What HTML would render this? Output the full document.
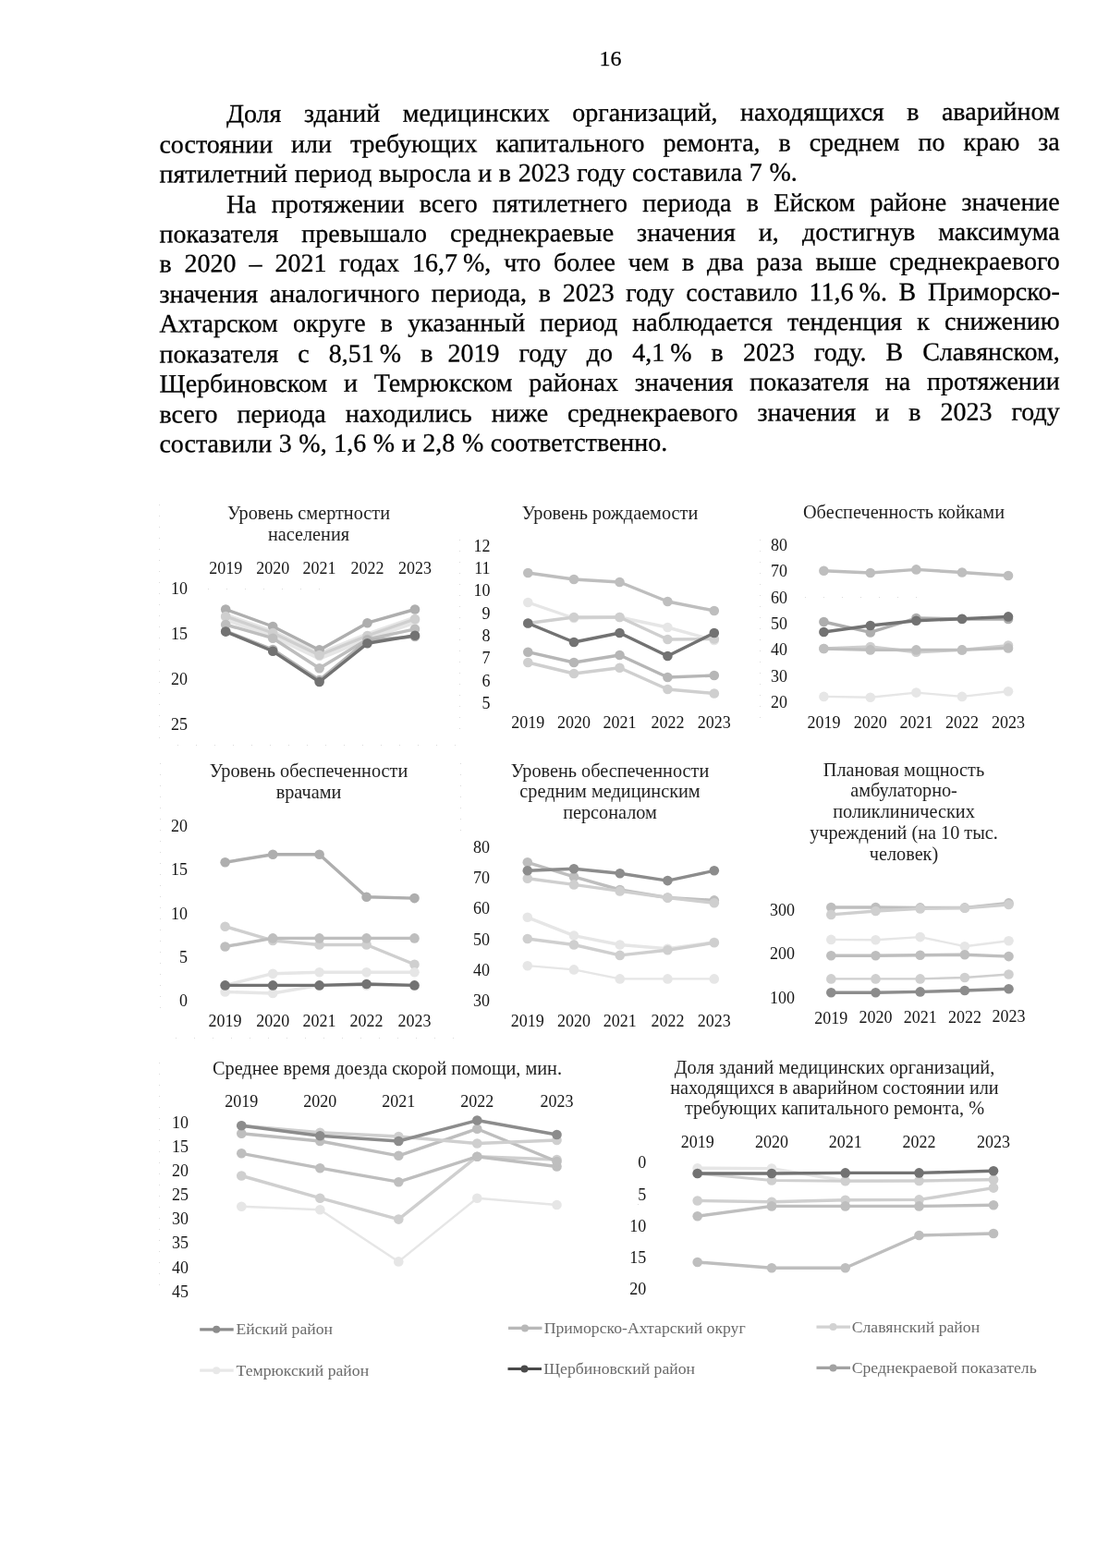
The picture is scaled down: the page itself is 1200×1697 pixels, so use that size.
<!DOCTYPE html>
<html lang="ru"><head><meta charset="utf-8"><title>16</title>
<style>
html,body{margin:0;padding:0;background:#fff;}
body{width:1200px;height:1697px;position:relative;overflow:hidden;font-family:"Liberation Serif","DejaVu Serif",serif;color:#000;}
.ln{position:absolute;white-space:nowrap;font-size:28px;line-height:32px;height:32px;color:#000;-webkit-text-stroke:0.3px #000;}
.tx{position:absolute;left:0;top:0;width:1200px;height:520px;transform:skewY(-0.17deg);transform-origin:660px 310px;}
.j{text-align:justify;text-align-last:justify;}
.l{text-align:left;word-spacing:0.6px;}
.nb{display:inline-block;text-align:left;text-align-last:auto;white-space:pre;}
.pg{position:absolute;-webkit-text-stroke:0.25px #000;font-size:24px;line-height:28px;left:630px;width:61px;text-align:center;top:49px;}
svg{position:absolute;left:0;top:0;}
svg text{font-family:"Liberation Serif","DejaVu Serif",serif;}
.t{font-size:20.25px;fill:#222;text-anchor:middle;}
.x{font-size:18px;fill:#151515;text-anchor:middle;}
.y{font-size:18px;fill:#151515;text-anchor:end;}
.lg{font-size:17.7px;fill:#6a6a6a;}
</style></head><body>
<div class="pg">16</div>
<div class="tx">
<div class="ln j" style="left:244.9px;top:106.1px;width:901.9px">Доля зданий медицинских организаций, находящихся в аварийном</div>
<div class="ln j" style="left:172.4px;top:138.6px;width:974.4px">состоянии или требующих капитального ремонта, в среднем по краю за</div>
<div class="ln l" style="left:172.4px;top:171.1px;width:974.4px">пятилетний период выросла и в 2023 году составила 7 %.</div>
<div class="ln j" style="left:244.9px;top:203.5px;width:901.9px">На протяжении всего пятилетнего периода в Ейском районе значение</div>
<div class="ln j" style="left:172.4px;top:236.0px;width:974.4px">показателя превышало среднекраевые значения и, достигнув максимума</div>
<div class="ln j" style="left:172.4px;top:268.4px;width:974.4px">в 2020 – 2021 годах <span class="nb" style="word-spacing:-1px">16,7 %,</span> что более чем в два раза выше среднекраевого</div>
<div class="ln j" style="left:172.4px;top:300.9px;width:974.4px">значения аналогичного периода, в 2023 году составило <span class="nb" style="word-spacing:-1px">11,6 %.</span> В Приморско-</div>
<div class="ln j" style="left:172.4px;top:333.4px;width:974.4px">Ахтарском округе в указанный период наблюдается тенденция к снижению</div>
<div class="ln j" style="left:172.4px;top:365.8px;width:974.4px">показателя с <span class="nb" style="word-spacing:-1px">8,51 %</span> <span class="nb" style="word-spacing:9px">в 2019</span> году до <span class="nb" style="word-spacing:-1px">4,1 %</span> в 2023 году. В Славянском,</div>
<div class="ln j" style="left:172.4px;top:398.3px;width:974.4px">Щербиновском и Темрюкском районах значения показателя на протяжении</div>
<div class="ln j" style="left:172.4px;top:430.8px;width:974.4px">всего периода находились ниже среднекраевого значения и в 2023 году</div>
<div class="ln l" style="left:172.4px;top:463.2px;width:974.4px">составили 3 %, 1,6 % и 2,8 % соответственно.</div>
</div>
<svg width="1200" height="1697" viewBox="0 0 1200 1697">
<g stroke="#9a9a9a" stroke-width="1" stroke-dasharray="1 11" fill="none" opacity="0.35"><path d="M172.5 546V800M172.5 1150V1400M497.5 584V796M822.5 584V786M498.5 826V900M173.5 826V1100"/><path d="M192 806.5H500M225 637.5H360M871 646.5H1007M690 1303.5H700M190 1123.5H500" stroke-dasharray="1 19"/></g>
<text class="t" x="334.0" y="562.0">Уровень смертности</text><text class="t" x="334.0" y="584.7">населения</text>
<text class="x" x="244.2" y="621.2">2019</text><text class="x" x="295.2" y="621.2">2020</text><text class="x" x="345.6" y="621.2">2021</text><text class="x" x="397.5" y="621.2">2022</text><text class="x" x="449.0" y="621.2">2023</text>
<text class="y" x="203.0" y="643.0">10</text><text class="y" x="203.0" y="692.0">15</text><text class="y" x="203.0" y="741.0">20</text><text class="y" x="203.0" y="789.5">25</text>
<g stroke="#e6e6e6" fill="#e6e6e6"><polyline points="244.2,668.0 295.2,686.0 345.6,710.0 397.5,689.0 449.0,671.0" fill="none" stroke-width="9" stroke-linejoin="round" stroke-linecap="round"/><circle cx="244.2" cy="668.0" r="5.3" stroke="none"/><circle cx="295.2" cy="686.0" r="5.3" stroke="none"/><circle cx="345.6" cy="710.0" r="5.3" stroke="none"/><circle cx="397.5" cy="689.0" r="5.3" stroke="none"/><circle cx="449.0" cy="671.0" r="5.3" stroke="none"/></g>
<g stroke="#aeaeae" fill="#aeaeae"><polyline points="244.2,659.5 295.2,678.0 345.6,703.4 397.5,674.2 449.0,659.5" fill="none" stroke-width="3.4" stroke-linejoin="round" stroke-linecap="round"/><circle cx="244.2" cy="659.5" r="5.3" stroke="none"/><circle cx="295.2" cy="678.0" r="5.3" stroke="none"/><circle cx="345.6" cy="703.4" r="5.3" stroke="none"/><circle cx="397.5" cy="674.2" r="5.3" stroke="none"/><circle cx="449.0" cy="659.5" r="5.3" stroke="none"/></g>
<g stroke="#cfcfcf" fill="#cfcfcf"><polyline points="244.2,667.0 295.2,685.0 345.6,709.0 397.5,688.0 449.0,670.0" fill="none" stroke-width="3.4" stroke-linejoin="round" stroke-linecap="round"/><circle cx="244.2" cy="667.0" r="5.3" stroke="none"/><circle cx="295.2" cy="685.0" r="5.3" stroke="none"/><circle cx="345.6" cy="709.0" r="5.3" stroke="none"/><circle cx="397.5" cy="688.0" r="5.3" stroke="none"/><circle cx="449.0" cy="670.0" r="5.3" stroke="none"/></g>
<g stroke="#bebebe" fill="#bebebe"><polyline points="244.2,676.0 295.2,690.7 345.6,723.3 397.5,692.0 449.0,680.8" fill="none" stroke-width="3.4" stroke-linejoin="round" stroke-linecap="round"/><circle cx="244.2" cy="676.0" r="5.3" stroke="none"/><circle cx="295.2" cy="690.7" r="5.3" stroke="none"/><circle cx="345.6" cy="723.3" r="5.3" stroke="none"/><circle cx="397.5" cy="692.0" r="5.3" stroke="none"/><circle cx="449.0" cy="680.8" r="5.3" stroke="none"/></g>
<g stroke="#b6b6b6" fill="#b6b6b6"><polyline points="244.2,683.0 295.2,703.0 345.6,736.0 397.5,693.0 449.0,689.0" fill="none" stroke-width="3.4" stroke-linejoin="round" stroke-linecap="round"/><circle cx="244.2" cy="683.0" r="5.3" stroke="none"/><circle cx="295.2" cy="703.0" r="5.3" stroke="none"/><circle cx="345.6" cy="736.0" r="5.3" stroke="none"/><circle cx="397.5" cy="693.0" r="5.3" stroke="none"/><circle cx="449.0" cy="689.0" r="5.3" stroke="none"/></g>
<g stroke="#727272" fill="#727272"><polyline points="244.2,683.6 295.2,704.8 345.6,738.0 397.5,696.3 449.0,687.8" fill="none" stroke-width="3.4" stroke-linejoin="round" stroke-linecap="round"/><circle cx="244.2" cy="683.6" r="5.3" stroke="none"/><circle cx="295.2" cy="704.8" r="5.3" stroke="none"/><circle cx="345.6" cy="738.0" r="5.3" stroke="none"/><circle cx="397.5" cy="696.3" r="5.3" stroke="none"/><circle cx="449.0" cy="687.8" r="5.3" stroke="none"/></g>
<text class="t" x="660.0" y="561.5">Уровень рождаемости</text>
<text class="x" x="571.3" y="788.0">2019</text><text class="x" x="621.0" y="788.0">2020</text><text class="x" x="670.5" y="788.0">2021</text><text class="x" x="722.4" y="788.0">2022</text><text class="x" x="772.8" y="788.0">2023</text>
<text class="y" x="530.5" y="596.8">12</text><text class="y" x="530.5" y="621.1">11</text><text class="y" x="530.5" y="645.4">10</text><text class="y" x="530.5" y="669.7">9</text><text class="y" x="530.5" y="694.0">8</text><text class="y" x="530.5" y="718.3">7</text><text class="y" x="530.5" y="742.6">6</text><text class="y" x="530.5" y="766.9">5</text>
<g stroke="#bebebe" fill="#bebebe"><polyline points="571.3,620.0 621.0,627.0 670.5,630.0 722.4,651.0 772.8,661.0" fill="none" stroke-width="3.4" stroke-linejoin="round" stroke-linecap="round"/><circle cx="571.3" cy="620.0" r="5.3" stroke="none"/><circle cx="621.0" cy="627.0" r="5.3" stroke="none"/><circle cx="670.5" cy="630.0" r="5.3" stroke="none"/><circle cx="722.4" cy="651.0" r="5.3" stroke="none"/><circle cx="772.8" cy="661.0" r="5.3" stroke="none"/></g>
<g stroke="#e6e6e6" fill="#e6e6e6"><polyline points="571.3,652.0 621.0,669.0 670.5,668.0 722.4,679.0 772.8,693.0" fill="none" stroke-width="3.4" stroke-linejoin="round" stroke-linecap="round"/><circle cx="571.3" cy="652.0" r="5.3" stroke="none"/><circle cx="621.0" cy="669.0" r="5.3" stroke="none"/><circle cx="670.5" cy="668.0" r="5.3" stroke="none"/><circle cx="722.4" cy="679.0" r="5.3" stroke="none"/><circle cx="772.8" cy="693.0" r="5.3" stroke="none"/></g>
<g stroke="#cfcfcf" fill="#cfcfcf"><polyline points="571.3,674.5 621.0,668.0 670.5,668.0 722.4,692.0 772.8,691.5" fill="none" stroke-width="3.4" stroke-linejoin="round" stroke-linecap="round"/><circle cx="571.3" cy="674.5" r="5.3" stroke="none"/><circle cx="621.0" cy="668.0" r="5.3" stroke="none"/><circle cx="670.5" cy="668.0" r="5.3" stroke="none"/><circle cx="722.4" cy="692.0" r="5.3" stroke="none"/><circle cx="772.8" cy="691.5" r="5.3" stroke="none"/></g>
<g stroke="#b6b6b6" fill="#b6b6b6"><polyline points="571.3,705.7 621.0,717.0 670.5,709.0 722.4,733.0 772.8,731.0" fill="none" stroke-width="3.4" stroke-linejoin="round" stroke-linecap="round"/><circle cx="571.3" cy="705.7" r="5.3" stroke="none"/><circle cx="621.0" cy="717.0" r="5.3" stroke="none"/><circle cx="670.5" cy="709.0" r="5.3" stroke="none"/><circle cx="722.4" cy="733.0" r="5.3" stroke="none"/><circle cx="772.8" cy="731.0" r="5.3" stroke="none"/></g>
<g stroke="#cfcfcf" fill="#cfcfcf"><polyline points="571.3,717.0 621.0,729.0 670.5,722.7 722.4,746.0 772.8,750.5" fill="none" stroke-width="3.4" stroke-linejoin="round" stroke-linecap="round"/><circle cx="571.3" cy="717.0" r="5.3" stroke="none"/><circle cx="621.0" cy="729.0" r="5.3" stroke="none"/><circle cx="670.5" cy="722.7" r="5.3" stroke="none"/><circle cx="722.4" cy="746.0" r="5.3" stroke="none"/><circle cx="772.8" cy="750.5" r="5.3" stroke="none"/></g>
<g stroke="#727272" fill="#727272"><polyline points="571.3,674.5 621.0,695.0 670.5,685.0 722.4,710.0 772.8,685.0" fill="none" stroke-width="3.4" stroke-linejoin="round" stroke-linecap="round"/><circle cx="571.3" cy="674.5" r="5.3" stroke="none"/><circle cx="621.0" cy="695.0" r="5.3" stroke="none"/><circle cx="670.5" cy="685.0" r="5.3" stroke="none"/><circle cx="722.4" cy="710.0" r="5.3" stroke="none"/><circle cx="772.8" cy="685.0" r="5.3" stroke="none"/></g>
<text class="t" x="978.0" y="561.0">Обеспеченность койками</text>
<text class="x" x="891.4" y="788.0">2019</text><text class="x" x="941.8" y="788.0">2020</text><text class="x" x="991.4" y="788.0">2021</text><text class="x" x="1041.0" y="788.0">2022</text><text class="x" x="1091.0" y="788.0">2023</text>
<text class="y" x="852.0" y="595.8">80</text><text class="y" x="852.0" y="624.1">70</text><text class="y" x="852.0" y="652.5">60</text><text class="y" x="852.0" y="680.8">50</text><text class="y" x="852.0" y="709.2">40</text><text class="y" x="852.0" y="737.5">30</text><text class="y" x="852.0" y="765.9">20</text>
<g stroke="#bebebe" fill="#bebebe"><polyline points="891.4,617.8 941.8,620.0 991.4,616.4 1041.0,619.5 1091.0,623.0" fill="none" stroke-width="3.4" stroke-linejoin="round" stroke-linecap="round"/><circle cx="891.4" cy="617.8" r="5.3" stroke="none"/><circle cx="941.8" cy="620.0" r="5.3" stroke="none"/><circle cx="991.4" cy="616.4" r="5.3" stroke="none"/><circle cx="1041.0" cy="619.5" r="5.3" stroke="none"/><circle cx="1091.0" cy="623.0" r="5.3" stroke="none"/></g>
<g stroke="#cfcfcf" fill="#cfcfcf"><polyline points="891.4,702.0 941.8,700.0 991.4,705.7 1041.0,703.4 1091.0,698.6" fill="none" stroke-width="3.4" stroke-linejoin="round" stroke-linecap="round"/><circle cx="891.4" cy="702.0" r="5.3" stroke="none"/><circle cx="941.8" cy="700.0" r="5.3" stroke="none"/><circle cx="991.4" cy="705.7" r="5.3" stroke="none"/><circle cx="1041.0" cy="703.4" r="5.3" stroke="none"/><circle cx="1091.0" cy="698.6" r="5.3" stroke="none"/></g>
<g stroke="#bebebe" fill="#bebebe"><polyline points="891.4,702.0 941.8,703.4 991.4,703.4 1041.0,703.4 1091.0,701.4" fill="none" stroke-width="3.4" stroke-linejoin="round" stroke-linecap="round"/><circle cx="891.4" cy="702.0" r="5.3" stroke="none"/><circle cx="941.8" cy="703.4" r="5.3" stroke="none"/><circle cx="991.4" cy="703.4" r="5.3" stroke="none"/><circle cx="1041.0" cy="703.4" r="5.3" stroke="none"/><circle cx="1091.0" cy="701.4" r="5.3" stroke="none"/></g>
<g stroke="#e6e6e6" fill="#e6e6e6"><polyline points="891.4,753.9 941.8,754.7 991.4,749.6 1041.0,753.9 1091.0,748.2" fill="none" stroke-width="2.4" stroke-linejoin="round" stroke-linecap="round"/><circle cx="891.4" cy="753.9" r="5.3" stroke="none"/><circle cx="941.8" cy="754.7" r="5.3" stroke="none"/><circle cx="991.4" cy="749.6" r="5.3" stroke="none"/><circle cx="1041.0" cy="753.9" r="5.3" stroke="none"/><circle cx="1091.0" cy="748.2" r="5.3" stroke="none"/></g>
<g stroke="#aeaeae" fill="#aeaeae"><polyline points="891.4,673.0 941.8,684.4 991.4,669.0 1041.0,670.0 1091.0,670.0" fill="none" stroke-width="3.4" stroke-linejoin="round" stroke-linecap="round"/><circle cx="891.4" cy="673.0" r="5.3" stroke="none"/><circle cx="941.8" cy="684.4" r="5.3" stroke="none"/><circle cx="991.4" cy="669.0" r="5.3" stroke="none"/><circle cx="1041.0" cy="670.0" r="5.3" stroke="none"/><circle cx="1091.0" cy="670.0" r="5.3" stroke="none"/></g>
<g stroke="#727272" fill="#727272"><polyline points="891.4,684.0 941.8,677.0 991.4,671.7 1041.0,669.7 1091.0,667.4" fill="none" stroke-width="3.4" stroke-linejoin="round" stroke-linecap="round"/><circle cx="891.4" cy="684.0" r="5.3" stroke="none"/><circle cx="941.8" cy="677.0" r="5.3" stroke="none"/><circle cx="991.4" cy="671.7" r="5.3" stroke="none"/><circle cx="1041.0" cy="669.7" r="5.3" stroke="none"/><circle cx="1091.0" cy="667.4" r="5.3" stroke="none"/></g>
<text class="t" x="334.0" y="841.0">Уровень обеспеченности</text><text class="t" x="334.0" y="863.7">врачами</text>
<text class="x" x="243.6" y="1111.0">2019</text><text class="x" x="295.2" y="1111.0">2020</text><text class="x" x="345.6" y="1111.0">2021</text><text class="x" x="396.6" y="1111.0">2022</text><text class="x" x="448.5" y="1111.0">2023</text>
<text class="y" x="203.0" y="900.1">20</text><text class="y" x="203.0" y="947.4">15</text><text class="y" x="203.0" y="994.7">10</text><text class="y" x="203.0" y="1042.0">5</text><text class="y" x="203.0" y="1089.3">0</text>
<g stroke="#aeaeae" fill="#aeaeae"><polyline points="243.6,933.3 295.2,924.8 345.6,924.8 396.6,970.7 448.5,972.1" fill="none" stroke-width="3.4" stroke-linejoin="round" stroke-linecap="round"/><circle cx="243.6" cy="933.3" r="5.3" stroke="none"/><circle cx="295.2" cy="924.8" r="5.3" stroke="none"/><circle cx="345.6" cy="924.8" r="5.3" stroke="none"/><circle cx="396.6" cy="970.7" r="5.3" stroke="none"/><circle cx="448.5" cy="972.1" r="5.3" stroke="none"/></g>
<g stroke="#cfcfcf" fill="#cfcfcf"><polyline points="243.6,1002.7 295.2,1018.0 345.6,1022.5 396.6,1022.5 448.5,1043.8" fill="none" stroke-width="3.4" stroke-linejoin="round" stroke-linecap="round"/><circle cx="243.6" cy="1002.7" r="5.3" stroke="none"/><circle cx="295.2" cy="1018.0" r="5.3" stroke="none"/><circle cx="345.6" cy="1022.5" r="5.3" stroke="none"/><circle cx="396.6" cy="1022.5" r="5.3" stroke="none"/><circle cx="448.5" cy="1043.8" r="5.3" stroke="none"/></g>
<g stroke="#bebebe" fill="#bebebe"><polyline points="243.6,1024.5 295.2,1015.4 345.6,1015.4 396.6,1015.4 448.5,1015.4" fill="none" stroke-width="3.4" stroke-linejoin="round" stroke-linecap="round"/><circle cx="243.6" cy="1024.5" r="5.3" stroke="none"/><circle cx="295.2" cy="1015.4" r="5.3" stroke="none"/><circle cx="345.6" cy="1015.4" r="5.3" stroke="none"/><circle cx="396.6" cy="1015.4" r="5.3" stroke="none"/><circle cx="448.5" cy="1015.4" r="5.3" stroke="none"/></g>
<g stroke="#e6e6e6" fill="#e6e6e6"><polyline points="243.6,1066.4 295.2,1053.7 345.6,1052.3 396.6,1052.3 448.5,1052.3" fill="none" stroke-width="3.4" stroke-linejoin="round" stroke-linecap="round"/><circle cx="243.6" cy="1066.4" r="5.3" stroke="none"/><circle cx="295.2" cy="1053.7" r="5.3" stroke="none"/><circle cx="345.6" cy="1052.3" r="5.3" stroke="none"/><circle cx="396.6" cy="1052.3" r="5.3" stroke="none"/><circle cx="448.5" cy="1052.3" r="5.3" stroke="none"/></g>
<g stroke="#e6e6e6" fill="#e6e6e6"><polyline points="243.6,1073.5 295.2,1075.0 345.6,1066.4 396.6,1066.4 448.5,1066.4" fill="none" stroke-width="3.4" stroke-linejoin="round" stroke-linecap="round"/><circle cx="243.6" cy="1073.5" r="5.3" stroke="none"/><circle cx="295.2" cy="1075.0" r="5.3" stroke="none"/><circle cx="345.6" cy="1066.4" r="5.3" stroke="none"/><circle cx="396.6" cy="1066.4" r="5.3" stroke="none"/><circle cx="448.5" cy="1066.4" r="5.3" stroke="none"/></g>
<g stroke="#727272" fill="#727272"><polyline points="243.6,1066.4 295.2,1066.4 345.6,1066.4 396.6,1065.0 448.5,1066.4" fill="none" stroke-width="3.4" stroke-linejoin="round" stroke-linecap="round"/><circle cx="243.6" cy="1066.4" r="5.3" stroke="none"/><circle cx="295.2" cy="1066.4" r="5.3" stroke="none"/><circle cx="345.6" cy="1066.4" r="5.3" stroke="none"/><circle cx="396.6" cy="1065.0" r="5.3" stroke="none"/><circle cx="448.5" cy="1066.4" r="5.3" stroke="none"/></g>
<text class="t" x="660.0" y="840.5">Уровень обеспеченности</text><text class="t" x="660.0" y="863.2">средним медицинским</text><text class="t" x="660.0" y="885.9">персоналом</text>
<text class="x" x="570.8" y="1111.0">2019</text><text class="x" x="621.0" y="1111.0">2020</text><text class="x" x="670.8" y="1111.0">2021</text><text class="x" x="722.4" y="1111.0">2022</text><text class="x" x="772.8" y="1111.0">2023</text>
<text class="y" x="530.0" y="922.6">80</text><text class="y" x="530.0" y="955.9">70</text><text class="y" x="530.0" y="989.2">60</text><text class="y" x="530.0" y="1022.5">50</text><text class="y" x="530.0" y="1055.8">40</text><text class="y" x="530.0" y="1089.1">30</text>
<g stroke="#bebebe" fill="#bebebe"><polyline points="570.8,933.3 621.0,948.9 670.8,963.0 722.4,971.5 772.8,974.4" fill="none" stroke-width="3.4" stroke-linejoin="round" stroke-linecap="round"/><circle cx="570.8" cy="933.3" r="5.3" stroke="none"/><circle cx="621.0" cy="948.9" r="5.3" stroke="none"/><circle cx="670.8" cy="963.0" r="5.3" stroke="none"/><circle cx="722.4" cy="971.5" r="5.3" stroke="none"/><circle cx="772.8" cy="974.4" r="5.3" stroke="none"/></g>
<g stroke="#cfcfcf" fill="#cfcfcf"><polyline points="570.8,950.8 621.0,957.4 670.8,964.4 722.4,971.5 772.8,977.2" fill="none" stroke-width="3.4" stroke-linejoin="round" stroke-linecap="round"/><circle cx="570.8" cy="950.8" r="5.3" stroke="none"/><circle cx="621.0" cy="957.4" r="5.3" stroke="none"/><circle cx="670.8" cy="964.4" r="5.3" stroke="none"/><circle cx="722.4" cy="971.5" r="5.3" stroke="none"/><circle cx="772.8" cy="977.2" r="5.3" stroke="none"/></g>
<g stroke="#e6e6e6" fill="#e6e6e6"><polyline points="570.8,992.8 621.0,1012.6 670.8,1022.5 722.4,1026.8 772.8,1019.7" fill="none" stroke-width="3.4" stroke-linejoin="round" stroke-linecap="round"/><circle cx="570.8" cy="992.8" r="5.3" stroke="none"/><circle cx="621.0" cy="1012.6" r="5.3" stroke="none"/><circle cx="670.8" cy="1022.5" r="5.3" stroke="none"/><circle cx="722.4" cy="1026.8" r="5.3" stroke="none"/><circle cx="772.8" cy="1019.7" r="5.3" stroke="none"/></g>
<g stroke="#cfcfcf" fill="#cfcfcf"><polyline points="570.8,1016.0 621.0,1022.5 670.8,1033.9 722.4,1028.2 772.8,1020.3" fill="none" stroke-width="3.4" stroke-linejoin="round" stroke-linecap="round"/><circle cx="570.8" cy="1016.0" r="5.3" stroke="none"/><circle cx="621.0" cy="1022.5" r="5.3" stroke="none"/><circle cx="670.8" cy="1033.9" r="5.3" stroke="none"/><circle cx="722.4" cy="1028.2" r="5.3" stroke="none"/><circle cx="772.8" cy="1020.3" r="5.3" stroke="none"/></g>
<g stroke="#e6e6e6" fill="#e6e6e6"><polyline points="570.8,1045.2 621.0,1049.4 670.8,1059.4 722.4,1059.4 772.8,1059.4" fill="none" stroke-width="2.2" stroke-linejoin="round" stroke-linecap="round"/><circle cx="570.8" cy="1045.2" r="5.3" stroke="none"/><circle cx="621.0" cy="1049.4" r="5.3" stroke="none"/><circle cx="670.8" cy="1059.4" r="5.3" stroke="none"/><circle cx="722.4" cy="1059.4" r="5.3" stroke="none"/><circle cx="772.8" cy="1059.4" r="5.3" stroke="none"/></g>
<g stroke="#8c8c8c" fill="#8c8c8c"><polyline points="570.8,942.3 621.0,940.3 670.8,945.2 722.4,953.1 772.8,942.3" fill="none" stroke-width="3.4" stroke-linejoin="round" stroke-linecap="round"/><circle cx="570.8" cy="942.3" r="5.3" stroke="none"/><circle cx="621.0" cy="940.3" r="5.3" stroke="none"/><circle cx="670.8" cy="945.2" r="5.3" stroke="none"/><circle cx="722.4" cy="953.1" r="5.3" stroke="none"/><circle cx="772.8" cy="942.3" r="5.3" stroke="none"/></g>
<text class="t" x="978.0" y="839.5">Плановая мощность</text><text class="t" x="978.0" y="862.4">амбулаторно-</text><text class="t" x="978.0" y="885.3">поликлинических</text><text class="t" x="978.0" y="908.2">учреждений (на 10 тыс.</text><text class="t" x="978.0" y="931.1">человек)</text>
<text class="x" x="899.3" y="1107.6">2019</text><text class="x" x="947.5" y="1107.4">2020</text><text class="x" x="995.7" y="1107.0">2021</text><text class="x" x="1043.9" y="1106.6">2022</text><text class="x" x="1091.5" y="1106.2">2023</text>
<text class="y" x="860.0" y="990.6">300</text><text class="y" x="860.0" y="1038.4">200</text><text class="y" x="860.0" y="1086.2">100</text>
<g stroke="#bebebe" fill="#bebebe"><polyline points="899.3,982.0 947.5,982.0 995.7,982.4 1043.9,982.4 1091.5,977.4" fill="none" stroke-width="3.4" stroke-linejoin="round" stroke-linecap="round"/><circle cx="899.3" cy="982.0" r="5.3" stroke="none"/><circle cx="947.5" cy="982.0" r="5.3" stroke="none"/><circle cx="995.7" cy="982.4" r="5.3" stroke="none"/><circle cx="1043.9" cy="982.4" r="5.3" stroke="none"/><circle cx="1091.5" cy="977.4" r="5.3" stroke="none"/></g>
<g stroke="#cfcfcf" fill="#cfcfcf"><polyline points="899.3,989.9 947.5,986.0 995.7,983.4 1043.9,982.8 1091.5,979.0" fill="none" stroke-width="3.4" stroke-linejoin="round" stroke-linecap="round"/><circle cx="899.3" cy="989.9" r="5.3" stroke="none"/><circle cx="947.5" cy="986.0" r="5.3" stroke="none"/><circle cx="995.7" cy="983.4" r="5.3" stroke="none"/><circle cx="1043.9" cy="982.8" r="5.3" stroke="none"/><circle cx="1091.5" cy="979.0" r="5.3" stroke="none"/></g>
<g stroke="#e6e6e6" fill="#e6e6e6"><polyline points="899.3,1016.9 947.5,1017.2 995.7,1014.1 1043.9,1024.2 1091.5,1018.3" fill="none" stroke-width="2.4" stroke-linejoin="round" stroke-linecap="round"/><circle cx="899.3" cy="1016.9" r="5.3" stroke="none"/><circle cx="947.5" cy="1017.2" r="5.3" stroke="none"/><circle cx="995.7" cy="1014.1" r="5.3" stroke="none"/><circle cx="1043.9" cy="1024.2" r="5.3" stroke="none"/><circle cx="1091.5" cy="1018.3" r="5.3" stroke="none"/></g>
<g stroke="#bebebe" fill="#bebebe"><polyline points="899.3,1034.2 947.5,1034.2 995.7,1033.7 1043.9,1033.3 1091.5,1035.1" fill="none" stroke-width="3.4" stroke-linejoin="round" stroke-linecap="round"/><circle cx="899.3" cy="1034.2" r="5.3" stroke="none"/><circle cx="947.5" cy="1034.2" r="5.3" stroke="none"/><circle cx="995.7" cy="1033.7" r="5.3" stroke="none"/><circle cx="1043.9" cy="1033.3" r="5.3" stroke="none"/><circle cx="1091.5" cy="1035.1" r="5.3" stroke="none"/></g>
<g stroke="#cfcfcf" fill="#cfcfcf"><polyline points="899.3,1059.4 947.5,1059.4 995.7,1059.4 1043.9,1058.0 1091.5,1054.5" fill="none" stroke-width="2.4" stroke-linejoin="round" stroke-linecap="round"/><circle cx="899.3" cy="1059.4" r="5.3" stroke="none"/><circle cx="947.5" cy="1059.4" r="5.3" stroke="none"/><circle cx="995.7" cy="1059.4" r="5.3" stroke="none"/><circle cx="1043.9" cy="1058.0" r="5.3" stroke="none"/><circle cx="1091.5" cy="1054.5" r="5.3" stroke="none"/></g>
<g stroke="#8c8c8c" fill="#8c8c8c"><polyline points="899.3,1074.2 947.5,1074.2 995.7,1073.4 1043.9,1072.0 1091.5,1070.2" fill="none" stroke-width="3.4" stroke-linejoin="round" stroke-linecap="round"/><circle cx="899.3" cy="1074.2" r="5.3" stroke="none"/><circle cx="947.5" cy="1074.2" r="5.3" stroke="none"/><circle cx="995.7" cy="1073.4" r="5.3" stroke="none"/><circle cx="1043.9" cy="1072.0" r="5.3" stroke="none"/><circle cx="1091.5" cy="1070.2" r="5.3" stroke="none"/></g>
<text class="t" x="419" y="1162.5">Среднее время доезда скорой помощи, мин.</text>
<text class="x" x="261.3" y="1198.0">2019</text><text class="x" x="346.3" y="1198.0">2020</text><text class="x" x="431.3" y="1198.0">2021</text><text class="x" x="516.3" y="1198.0">2022</text><text class="x" x="602.5" y="1198.0">2023</text>
<text class="y" x="204.0" y="1220.9">10</text><text class="y" x="204.0" y="1247.0">15</text><text class="y" x="204.0" y="1273.1">20</text><text class="y" x="204.0" y="1299.2">25</text><text class="y" x="204.0" y="1325.3">30</text><text class="y" x="204.0" y="1351.4">35</text><text class="y" x="204.0" y="1377.5">40</text><text class="y" x="204.0" y="1403.6">45</text>
<g stroke="#e6e6e6" fill="#e6e6e6"><polyline points="261.3,1305.8 346.3,1309.2 431.3,1365.4 516.3,1296.7 602.5,1304.0" fill="none" stroke-width="2.4" stroke-linejoin="round" stroke-linecap="round"/><circle cx="261.3" cy="1305.8" r="5.3" stroke="none"/><circle cx="346.3" cy="1309.2" r="5.3" stroke="none"/><circle cx="431.3" cy="1365.4" r="5.3" stroke="none"/><circle cx="516.3" cy="1296.7" r="5.3" stroke="none"/><circle cx="602.5" cy="1304.0" r="5.3" stroke="none"/></g>
<g stroke="#cfcfcf" fill="#cfcfcf"><polyline points="261.3,1272.5 346.3,1296.7 431.3,1319.6 516.3,1251.7 602.5,1255.0" fill="none" stroke-width="3.4" stroke-linejoin="round" stroke-linecap="round"/><circle cx="261.3" cy="1272.5" r="5.3" stroke="none"/><circle cx="346.3" cy="1296.7" r="5.3" stroke="none"/><circle cx="431.3" cy="1319.6" r="5.3" stroke="none"/><circle cx="516.3" cy="1251.7" r="5.3" stroke="none"/><circle cx="602.5" cy="1255.0" r="5.3" stroke="none"/></g>
<g stroke="#bebebe" fill="#bebebe"><polyline points="261.3,1248.3 346.3,1264.2 431.3,1279.2 516.3,1251.7 602.5,1262.5" fill="none" stroke-width="3.4" stroke-linejoin="round" stroke-linecap="round"/><circle cx="261.3" cy="1248.3" r="5.3" stroke="none"/><circle cx="346.3" cy="1264.2" r="5.3" stroke="none"/><circle cx="431.3" cy="1279.2" r="5.3" stroke="none"/><circle cx="516.3" cy="1251.7" r="5.3" stroke="none"/><circle cx="602.5" cy="1262.5" r="5.3" stroke="none"/></g>
<g stroke="#bebebe" fill="#bebebe"><polyline points="261.3,1226.7 346.3,1235.0 431.3,1250.8 516.3,1221.7 602.5,1257.0" fill="none" stroke-width="3.4" stroke-linejoin="round" stroke-linecap="round"/><circle cx="261.3" cy="1226.7" r="5.3" stroke="none"/><circle cx="346.3" cy="1235.0" r="5.3" stroke="none"/><circle cx="431.3" cy="1250.8" r="5.3" stroke="none"/><circle cx="516.3" cy="1221.7" r="5.3" stroke="none"/><circle cx="602.5" cy="1257.0" r="5.3" stroke="none"/></g>
<g stroke="#cfcfcf" fill="#cfcfcf"><polyline points="261.3,1218.3 346.3,1225.8 431.3,1230.0 516.3,1237.5 602.5,1234.0" fill="none" stroke-width="3.4" stroke-linejoin="round" stroke-linecap="round"/><circle cx="261.3" cy="1218.3" r="5.3" stroke="none"/><circle cx="346.3" cy="1225.8" r="5.3" stroke="none"/><circle cx="431.3" cy="1230.0" r="5.3" stroke="none"/><circle cx="516.3" cy="1237.5" r="5.3" stroke="none"/><circle cx="602.5" cy="1234.0" r="5.3" stroke="none"/></g>
<g stroke="#8c8c8c" fill="#8c8c8c"><polyline points="261.3,1218.3 346.3,1229.2 431.3,1235.0 516.3,1212.5 602.5,1228.0" fill="none" stroke-width="3.4" stroke-linejoin="round" stroke-linecap="round"/><circle cx="261.3" cy="1218.3" r="5.3" stroke="none"/><circle cx="346.3" cy="1229.2" r="5.3" stroke="none"/><circle cx="431.3" cy="1235.0" r="5.3" stroke="none"/><circle cx="516.3" cy="1212.5" r="5.3" stroke="none"/><circle cx="602.5" cy="1228.0" r="5.3" stroke="none"/></g>
<text class="t" x="903.0" y="1161.7">Доля зданий медицинских организаций,</text><text class="t" x="903.0" y="1183.9">находящихся в аварийном состоянии или</text><text class="t" x="903.0" y="1206.1">требующих капитального ремонта, %</text>
<text class="x" x="754.7" y="1241.7">2019</text><text class="x" x="835.0" y="1241.7">2020</text><text class="x" x="914.7" y="1241.7">2021</text><text class="x" x="994.5" y="1241.7">2022</text><text class="x" x="1075.0" y="1241.7">2023</text>
<text class="y" x="699.3" y="1264.4">0</text><text class="y" x="699.3" y="1298.6">5</text><text class="y" x="699.3" y="1332.7">10</text><text class="y" x="699.3" y="1366.9">15</text><text class="y" x="699.3" y="1401.0">20</text>
<g stroke="#e6e6e6" fill="#e6e6e6"><polyline points="754.7,1264.2 835.0,1264.6 914.7,1278.0 994.5,1278.0 1075.0,1277.0" fill="none" stroke-width="3.4" stroke-linejoin="round" stroke-linecap="round"/><circle cx="754.7" cy="1264.2" r="5.3" stroke="none"/><circle cx="835.0" cy="1264.6" r="5.3" stroke="none"/><circle cx="914.7" cy="1278.0" r="5.3" stroke="none"/><circle cx="994.5" cy="1278.0" r="5.3" stroke="none"/><circle cx="1075.0" cy="1277.0" r="5.3" stroke="none"/></g>
<g stroke="#cfcfcf" fill="#cfcfcf"><polyline points="754.7,1270.0 835.0,1277.5 914.7,1278.3 994.5,1278.0 1075.0,1276.5" fill="none" stroke-width="3" stroke-linejoin="round" stroke-linecap="round"/><circle cx="754.7" cy="1270.0" r="5.3" stroke="none"/><circle cx="835.0" cy="1277.5" r="5.3" stroke="none"/><circle cx="914.7" cy="1278.3" r="5.3" stroke="none"/><circle cx="994.5" cy="1278.0" r="5.3" stroke="none"/><circle cx="1075.0" cy="1276.5" r="5.3" stroke="none"/></g>
<g stroke="#cfcfcf" fill="#cfcfcf"><polyline points="754.7,1299.5 835.0,1300.8 914.7,1298.8 994.5,1298.4 1075.0,1285.6" fill="none" stroke-width="3.4" stroke-linejoin="round" stroke-linecap="round"/><circle cx="754.7" cy="1299.5" r="5.3" stroke="none"/><circle cx="835.0" cy="1300.8" r="5.3" stroke="none"/><circle cx="914.7" cy="1298.8" r="5.3" stroke="none"/><circle cx="994.5" cy="1298.4" r="5.3" stroke="none"/><circle cx="1075.0" cy="1285.6" r="5.3" stroke="none"/></g>
<g stroke="#bebebe" fill="#bebebe"><polyline points="754.7,1316.2 835.0,1305.4 914.7,1305.4 994.5,1305.4 1075.0,1304.3" fill="none" stroke-width="3.4" stroke-linejoin="round" stroke-linecap="round"/><circle cx="754.7" cy="1316.2" r="5.3" stroke="none"/><circle cx="835.0" cy="1305.4" r="5.3" stroke="none"/><circle cx="914.7" cy="1305.4" r="5.3" stroke="none"/><circle cx="994.5" cy="1305.4" r="5.3" stroke="none"/><circle cx="1075.0" cy="1304.3" r="5.3" stroke="none"/></g>
<g stroke="#bebebe" fill="#bebebe"><polyline points="754.7,1366.0 835.0,1372.2 914.7,1372.2 994.5,1337.0 1075.0,1335.0" fill="none" stroke-width="3.4" stroke-linejoin="round" stroke-linecap="round"/><circle cx="754.7" cy="1366.0" r="5.3" stroke="none"/><circle cx="835.0" cy="1372.2" r="5.3" stroke="none"/><circle cx="914.7" cy="1372.2" r="5.3" stroke="none"/><circle cx="994.5" cy="1337.0" r="5.3" stroke="none"/><circle cx="1075.0" cy="1335.0" r="5.3" stroke="none"/></g>
<g stroke="#727272" fill="#727272"><polyline points="754.7,1270.0 835.0,1270.0 914.7,1269.4 994.5,1269.4 1075.0,1267.3" fill="none" stroke-width="3.4" stroke-linejoin="round" stroke-linecap="round"/><circle cx="754.7" cy="1270.0" r="5.3" stroke="none"/><circle cx="835.0" cy="1270.0" r="5.3" stroke="none"/><circle cx="914.7" cy="1269.4" r="5.3" stroke="none"/><circle cx="994.5" cy="1269.4" r="5.3" stroke="none"/><circle cx="1075.0" cy="1267.3" r="5.3" stroke="none"/></g>
<g stroke="#8c8c8c" fill="#8c8c8c"><line x1="216.2" y1="1438.8" x2="252.7" y2="1438.8" stroke-width="3.2"/><circle cx="234.2" cy="1438.8" r="4" stroke="none"/></g><text class="lg" x="255.5" y="1444.3">Ейский район</text>
<g stroke="#b8b8b8" fill="#b8b8b8"><line x1="550" y1="1437.4" x2="586.5" y2="1437.4" stroke-width="3.2"/><circle cx="568" cy="1437.4" r="4" stroke="none"/></g><text class="lg" x="588.7" y="1442.9">Приморско-Ахтарский округ</text>
<g stroke="#d2d2d2" fill="#d2d2d2"><line x1="883.5" y1="1436.1" x2="920.0" y2="1436.1" stroke-width="3.2"/><circle cx="901.5" cy="1436.1" r="4" stroke="none"/></g><text class="lg" x="921.7" y="1441.6">Славянский район</text>
<g stroke="#e8e8e8" fill="#e8e8e8"><line x1="216.2" y1="1483.2" x2="252.7" y2="1483.2" stroke-width="3.2"/><circle cx="234.2" cy="1483.2" r="4" stroke="none"/></g><text class="lg" x="255.5" y="1488.7">Темрюкский район</text>
<g stroke="#4a4a4a" fill="#4a4a4a"><line x1="549.5" y1="1481.5" x2="586.0" y2="1481.5" stroke-width="3.2"/><circle cx="567.5" cy="1481.5" r="4" stroke="none"/></g><text class="lg" x="588.2" y="1487.0">Щербиновский район</text>
<g stroke="#a2a2a2" fill="#a2a2a2"><line x1="883.5" y1="1480.4" x2="920.0" y2="1480.4" stroke-width="3.2"/><circle cx="901.5" cy="1480.4" r="4" stroke="none"/></g><text class="lg" x="921.7" y="1485.9">Среднекраевой показатель</text>
</svg>
</body></html>
